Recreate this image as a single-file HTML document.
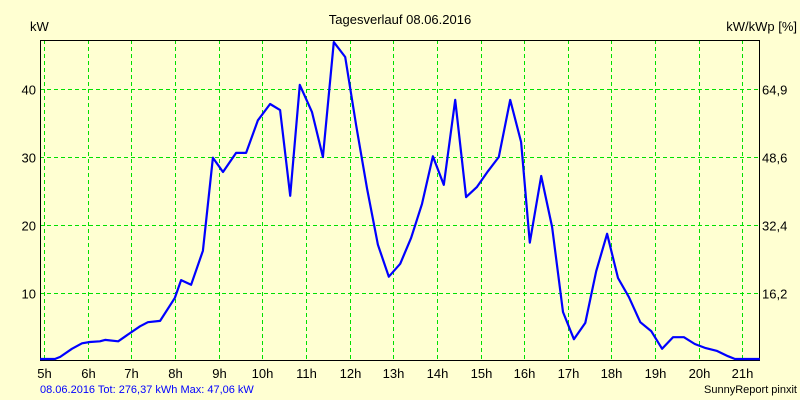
<!DOCTYPE html>
<html><head><meta charset="utf-8"><style>
body{margin:0;background:#ffffd2;}
svg{display:block;font-family:"Liberation Sans",sans-serif;}
</style></head><body>
<svg id="chart" width="800" height="400" viewBox="0 0 800 400">
<rect x="0" y="0" width="800" height="400" fill="#ffffd2"/>
<text x="400" y="24" text-anchor="middle" font-size="13">Tagesverlauf 08.06.2016</text>
<text x="30" y="31" font-size="13">kW</text>
<text x="797" y="31" text-anchor="end" font-size="13">kW/kWp [%]</text>
<g id="grid"></g>
<g id="axes"></g>
<g id="series"></g>
<text x="40" y="393" font-size="11" fill="#0000ff">08.06.2016 Tot: 276,37 kWh Max: 47,06 kW</text>
<text x="797" y="393" text-anchor="end" font-size="11">SunnyReport pinxit</text>
</svg>
<script>
const hourTicks=[5,6,7,8,9,10,11,12,13,14,15,16,17,18,19,20,21];
const kwTicks=[10,20,30,40];
const pctTickLabels=["16,2","32,4","48,6","64,9"];
const times=[4.91,5.25,5.37,5.64,5.87,6.05,6.28,6.40,6.70,6.97,7.20,7.38,7.66,8.00,8.14,8.37,8.64,8.87,9.10,9.40,9.63,9.90,10.18,10.41,10.64,10.86,11.14,11.39,11.64,11.90,12.15,12.40,12.65,12.90,13.16,13.41,13.66,13.91,14.16,14.42,14.67,14.92,15.17,15.42,15.68,15.93,16.13,16.39,16.64,16.89,17.14,17.40,17.65,17.90,18.15,18.40,18.66,18.91,19.16,19.41,19.66,19.91,20.16,20.41,20.67,20.83,21.40];
const powerKw=[0.3,0.3,0.6,1.8,2.6,2.8,2.9,3.1,2.9,4.1,5.1,5.7,5.9,9.3,11.9,11.2,16.2,29.9,27.8,30.6,30.6,35.4,37.8,36.9,24.3,40.6,36.6,30.0,46.9,44.7,34.7,25.4,17.1,12.4,14.3,18.1,23.1,30.1,25.9,38.4,24.1,25.6,27.9,30.0,38.4,32.2,17.4,27.2,19.7,7.2,3.2,5.6,13.2,18.7,12.2,9.4,5.7,4.4,1.8,3.5,3.5,2.5,1.9,1.5,0.7,0.3,0.3];
const L=40,R=759,T=40,B=360;
const xs=h=>44+(h-5)*43.65;
const ys=v=>361-v*6.8;
const NS="http://www.w3.org/2000/svg";
function mk(tag,attrs,parent,txt){const e=document.createElementNS(NS,tag);for(const k in attrs)e.setAttribute(k,attrs[k]);if(txt!==undefined)e.textContent=txt;parent.appendChild(e);return e;}
const grid=document.getElementById('grid'),axes=document.getElementById('axes'),ser=document.getElementById('series');
hourTicks.forEach(h=>{
  const x=Math.round(xs(h))+0.5;
  const g=mk('line',{x1:x,x2:x,y1:T,y2:B,stroke:'#00e000','stroke-dasharray':'4,3','stroke-width':1},grid);
  
  
  const t=mk('text',{x:x,y:378,'text-anchor':'middle','font-size':13},axes,h+'h');
  
  
});
kwTicks.forEach((v,i)=>{
  const y=Math.round(ys(v))+0.5;
  const g=mk('line',{x1:L,x2:R,y1:y,y2:y,stroke:'#00e000','stroke-dasharray':'4,3','stroke-width':1},grid);
  
  
  const t=mk('text',{x:36,y:y+5,'text-anchor':'end','font-size':13},axes,String(v));
  
  
  const t2=mk('text',{x:762,y:y+5,'font-size':13},axes,pctTickLabels[i]);
  
  
});
const frame=mk('path',{d:`M${L+0.5},${B} L${L+0.5},${T+0.5} L${R+0.5},${T+0.5} L${R+0.5},${B+0.5} L${L},${B+0.5}`,fill:'none',stroke:'#000','stroke-width':1},axes);


const pts=times.map((t,i)=>xs(t).toFixed(1)+','+ys(powerKw[i]).toFixed(1)).join(' ');
const line=mk('polyline',{points:pts,fill:'none',stroke:'#0000ff','stroke-width':2.2,'stroke-linejoin':'round'},ser);


</script>
</body></html>
